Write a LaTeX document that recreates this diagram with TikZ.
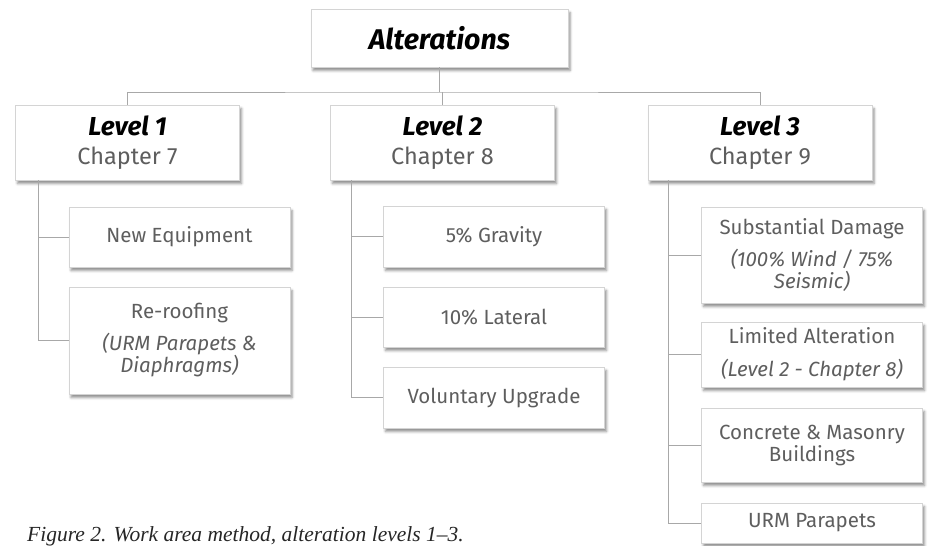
\documentclass[tikz,border=0pt]{standalone}
\usepackage{fontspec}
\setmainfont{Fira Sans}
\newfontfamily\capfont[Ligatures=TeX]{Liberation Serif}
\usetikzlibrary{shadows.blur}
\definecolor{linkgray}{HTML}{A8A8A8}
\definecolor{boxgray}{HTML}{D4D4D4}
\definecolor{txtgray}{HTML}{5E5E5E}
\begin{document}
\begin{tikzpicture}[x=1pt,y=-1pt,
  box/.style={draw=boxgray,line width=0.8pt,fill=white,inner sep=0pt,align=center,
    blur shadow={shadow xshift=2pt,shadow yshift=-3.5pt,shadow blur radius=2.5pt,shadow opacity=45}},
  topbox/.style={box,minimum width=257pt,minimum height=58pt,font=\fontsize{28.5}{32}\selectfont\bfseries\itshape},
  lvlbox/.style={box,minimum width=224pt,minimum height=75pt,font=\fontsize{23.5}{29}\selectfont},
  itembox/.style={box,minimum width=221pt,text=txtgray,font=\fontsize{20.5}{22}\selectfont},
  link/.style={draw=linkgray,line width=1pt}]
\useasboundingbox (0,0) rectangle (929,546);
\node[topbox] (alt) at (439.5,38) {Alterations};
\node[lvlbox] (lvA) at (127.5,142.5) {{\fontsize{26}{29}\selectfont\bfseries\itshape Level 1}\\{\color{txtgray}Chapter 7}};
\node[lvlbox] (lvB) at (442.5,142.5) {{\fontsize{26}{29}\selectfont\bfseries\itshape Level 2}\\{\color{txtgray}Chapter 8}};
\node[lvlbox] (lvC) at (760,142.5) {{\fontsize{26}{29}\selectfont\bfseries\itshape Level 3}\\{\color{txtgray}Chapter 9}};
\node[itembox,minimum height=60pt] (equip) at (179.5,237) {New Equipment};
\node[itembox,minimum height=107pt] (roof) at (179.5,340.5) {Re-roofing\\[10pt]\itshape (URM Parapets \&\\\itshape Diaphragms)};
\node[itembox,minimum height=61pt] (grav) at (494,236.5) {5\% Gravity};
\node[itembox,minimum height=60pt] (lat) at (494,317) {10\% Lateral};
\node[itembox,minimum height=61pt] (vol) at (494,397.5) {Voluntary Upgrade};
\node[itembox,minimum height=96pt] (dmg) at (812,255) {Substantial Damage\\[10pt]\itshape (100\% Wind / 75\%\\\itshape Seismic)};
\node[itembox,minimum height=65pt] (lim) at (812,354.5) {Limited Alteration\\[11pt]\itshape (Level 2 - Chapter 8)};
\node[itembox,minimum height=74pt] (conc) at (812,445) {Concrete \& Masonry\\Buildings};
\node[itembox,minimum height=40pt] (urm) at (812,523) {URM Parapets};
\coordinate (bar) at (439.5,92);
\draw[link] (alt.south) -- (bar);
\draw[link] (lvA.north) |- (bar) -| (lvC.north);
\draw[link] (lvB.north) -- (lvB.north |- bar);
\draw[link] ([xshift=-89pt]lvA.south) |- (equip.west);
\draw[link] ([xshift=-89pt]lvA.south) |- (roof.west);
\draw[link] ([xshift=-91pt]lvB.south) |- (grav.west);
\draw[link] ([xshift=-91pt]lvB.south) |- (lat.west);
\draw[link] ([xshift=-91pt]lvB.south) |- (vol.west);
\draw[link] ([xshift=-92pt]lvC.south) |- (dmg.west);
\draw[link] ([xshift=-92pt]lvC.south) |- (lim.west);
\draw[link] ([xshift=-92pt]lvC.south) |- (conc.west);
\draw[link] ([xshift=-92pt]lvC.south) |- (urm.west);
\node[anchor=base west,inner sep=0pt,font=\capfont\itshape\fontsize{21.5}{24}\selectfont,text=black!85] (cap) at (27,541) {Figure 2. Work area method, alteration levels 1--3.};
\end{tikzpicture}
\end{document}
